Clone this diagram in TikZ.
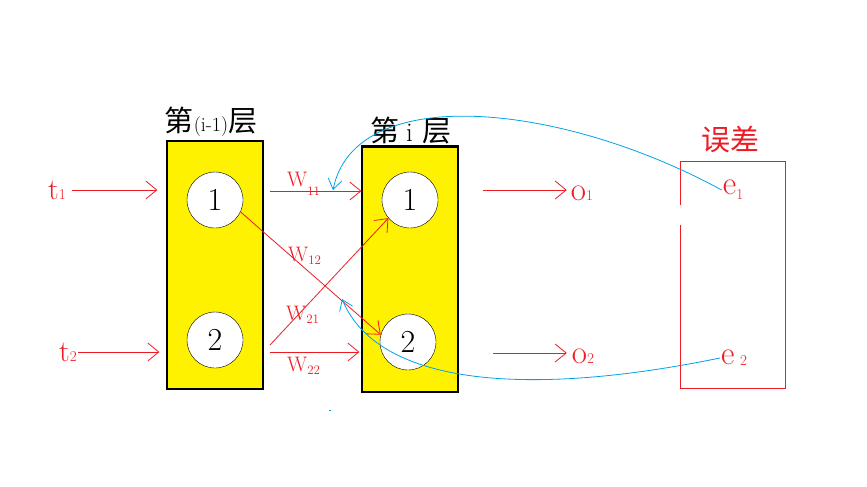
\documentclass[tikz,border=0pt]{standalone}
\usepackage{fontspec}
\newfontfamily\cjk{Noto Sans CJK SC}
\usepackage{tikz}
\usepackage{xcolor}
\usetikzlibrary{arrows.meta}
\definecolor{paintred}{RGB}{237,28,36}
\definecolor{paintblue}{RGB}{0,162,232}
\definecolor{paintyellow}{RGB}{255,242,0}
\newcommand{\idx}[2][0pt]{\raisebox{#1}{\fontsize{15}{15}\selectfont #2}}
\newcommand{\widx}[2][0pt]{\raisebox{#1}{\fontsize{13}{13}\selectfont #2}}

\begin{document}
\begin{tikzpicture}[x=1pt,y=-1pt,
   layer/.style={draw,line width=1.2pt,fill=paintyellow,minimum width=96pt},
   neuron/.style={draw,circle,fill=white,minimum size=56pt,inner sep=0pt,
      font=\fontsize{32}{32}\selectfont},
   sig/.style={draw=paintred,line width=0.8pt,-{Straight Barb[length=11pt,width=18pt]}},
   back/.style={draw=paintblue,line width=0.8pt,-{Straight Barb[length=10pt,width=14pt]}},
   rtext/.style={text=paintred,inner sep=1pt,font=\fontsize{30}{30}\selectfont},
   wtext/.style={text=paintred,inner sep=0pt,anchor=base west,font=\fontsize{21}{21}\selectfont},
   title/.style={inner sep=0pt,anchor=base,font=\fontsize{29}{29}\selectfont\cjk}]
\useasboundingbox (0,0) rectangle (867,487);

\node[layer,minimum height=248pt] (L) at (215,265) {};
\node[layer,minimum height=245pt] (R) at (410,269.5) {};
\draw[line width=3pt] (R.north west) -- (R.north east);
\node[title] (Lt) at (211,131) {第{\rmfamily\fontsize{20}{20}\selectfont(i-1)}层};
\node[title] (Rt) at (411,141) {第\hspace{7pt}{\rmfamily\fontsize{27}{27}\selectfont i}\hspace{10pt}层};

\node[neuron] (a1) at (215,200) {1};
\node[neuron] (a2) at (215,340) {2};
\node[neuron] (b1) at (410,200) {1};
\node[neuron] (b2) at (408,342) {2};

\node[minimum width=104pt,minimum height=226pt,inner sep=0pt] (E) at (733,275) {};
\node[title,text=paintred] (Et) at (730,150) {误差};
\draw[paintred,line width=0.8pt] ([yshift=-43pt]E.north west) |- (E.north east)
   -- (E.south east) -- (E.south west) -- ([yshift=-63pt]E.north west);

\node[rtext] (t1) at (57,190) {t\idx{1}};
\node[rtext] (t2) at (68,352) {t\idx{2}};
\node[rtext,font=\fontsize{33}{33}\selectfont] (o1) at (582,193) {o\idx{1}};
\node[rtext,font=\fontsize{33}{33}\selectfont] (o2) at (583,356) {o\idx{2}};
\node[rtext,font=\fontsize{33}{33}\selectfont] (e1) at (733,190) {e\idx[-5pt]{1}};
\node[rtext,font=\fontsize{33}{33}\selectfont] (e2) at (734,358) {e\,\idx[-1pt]{2}};

\node[wtext] (w11) at (287,186) {W\widx[-9pt]{11}};
\node[wtext] (w12) at (288,261) {W\widx[-3pt]{12}};
\node[wtext] (w21) at (286,320) {W\widx[-3pt]{21}};
\node[wtext] (w22) at (287,371) {W\widx[-3pt]{22}};

\coordinate (s11) at (270,191);
\coordinate (s21) at (270,345);
\coordinate (s22) at (270,352);
\coordinate (o1s) at (483,190);
\coordinate (o2s) at (493,353);
\coordinate (fb1) at (333,190);
\coordinate (fb2) at (342,299);

\draw[sig,shorten <=5pt,shorten >=9pt] (t1.east) -- (t1.east -| L.west);
\draw[sig,shorten >=7pt] (t2.east) -- (t2.east -| L.west);
\draw[sig] (s11) -- (s11 -| R.west);
\draw[sig] (a1.-25) -- (b2.165);
\draw[sig] (s21) -- (b1.220);
\draw[sig,shorten >=2pt] (s22) -- (s22 -| R.west);
\draw[sig,shorten >=3pt] (o1s) -- (o1s -| o1.west);
\draw[sig,shorten >=4pt] (o2s) -- (o2s -| o2.west);

\draw[back] (e1.west) .. controls (560,102) and (355,82) .. (fb1);
\draw[back] (e2.west) .. controls (540,395) and (380,390) .. (fb2);
\fill[paintblue] (329,409.5) rectangle (331,410.5);
\end{tikzpicture}
\end{document}
